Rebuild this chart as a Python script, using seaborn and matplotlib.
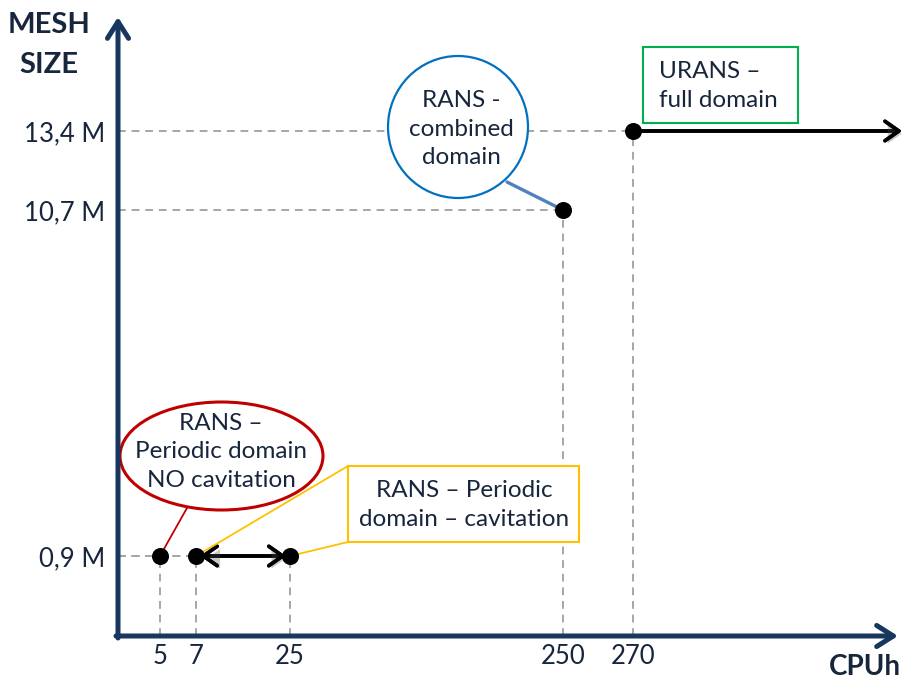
import numpy as np
import matplotlib.pyplot as plt
import seaborn as sns
import matplotlib.patheffects as pe
from matplotlib.patches import Ellipse, Rectangle

# data
cpu_hours = [5, 7, 25, 250, 270]
mesh_size = [0.9, 0.9, 0.9, 10.7, 13.4]
x_tick_labels = ["5", "7", "25", "250", "270"]
y_ticks = [0.9, 10.7, 13.4]
y_tick_labels = ["0,9 M", "10,7 M", "13,4 M"]

sns.set_theme(style="white")
plt.rcParams["font.family"] = ["Lato", "DejaVu Sans"]

W, H = 904, 679
NAVY = "#17375E"
TXT = "#17263C"
GREY = "#A6A6A6"


def px(x, y):
    # image pixel -> figure fraction
    return (x / W, 1 - y / H)


def piecewise(d, p):
    # schematic (non linear) axis: piecewise linear between the tick values
    d = np.asarray(d, float)
    p = np.asarray(p, float)

    def make(a, b):
        def f(v):
            v = np.asarray(v, float)
            out = np.interp(v, a, b)
            out = np.where(v < a[0], b[0] + (v - a[0]) * (b[1] - b[0]) / (a[1] - a[0]), out)
            out = np.where(v > a[-1], b[-1] + (v - a[-1]) * (b[-1] - b[-2]) / (a[-1] - a[-2]), out)
            return out
        return f
    return make(d, p), make(p, d)


fx, ix = piecewise([0, 5, 7, 25, 250, 270], [118, 160, 196, 290, 563, 633])
fy, iy = piecewise([0, 0.9, 10.7, 13.4], [H - 636, H - 556, H - 210, H - 131])

fig = plt.figure(figsize=(W / 100, H / 100), dpi=100)
ax = fig.add_axes([118 / W, (H - 636) / H, (W - 118) / W, 636 / H])
ax.set_xscale("function", functions=(fx, ix))
ax.set_yscale("function", functions=(fy, iy))
ax.set_xlim(0, float(ix(W)))
ax.set_ylim(0, float(iy(H)))
ax.set_facecolor("white")
for s in ax.spines.values():
    s.set_visible(False)
ax.minorticks_off()
ax.set_xticks(cpu_hours, x_tick_labels)
ax.set_yticks(y_ticks, y_tick_labels)
ax.tick_params(axis="both", length=0, labelsize=18.5, labelcolor=TXT)
ax.tick_params(axis="x", pad=6)
ax.tick_params(axis="y", pad=9)

# dashed guide lines
for x, y in zip(cpu_hours, mesh_size):
    ax.plot([x, x], [0, y], ls=(0, (4, 3)), color=GREY, lw=1.4, zorder=1)
    ax.plot([0, x], [y, y], ls=(0, (4, 3)), color=GREY, lw=1.4, zorder=1)

# axes arrows
axis_arrow = dict(arrowstyle="->,head_length=0.6,head_width=0.38", color=NAVY, lw=3.6,
                  mutation_scale=20, shrinkA=0, shrinkB=0)
fig.add_artist(plt.Annotation("", xy=px(118, 17), xytext=px(118, 638), xycoords="figure fraction",
                              arrowprops=axis_arrow))
fig.add_artist(plt.Annotation("", xy=px(898, 636), xytext=px(116, 636), xycoords="figure fraction",
                              arrowprops=axis_arrow))

fig.text(*px(49, 33), "MESH", ha="center", va="baseline", fontsize=21, fontweight="bold", color=TXT)
fig.text(*px(49, 73), "SIZE", ha="center", va="baseline", fontsize=21, fontweight="bold", color=TXT)
fig.text(*px(865, 675), "CPUh", ha="center", va="baseline", fontsize=20, fontweight="bold", color=TXT)

# black range arrows
shadow = [pe.withSimplePatchShadow(offset=(2, -2), alpha=0.3), pe.Normal()]
a1 = ax.annotate("", xy=(cpu_hours[2], mesh_size[2]), xytext=(cpu_hours[1], mesh_size[1]),
                 arrowprops=dict(arrowstyle="<->,head_length=0.5,head_width=0.35", color="black",
                                 lw=2.6, mutation_scale=20, shrinkA=3, shrinkB=3))
a1.arrow_patch.set_path_effects(shadow)
a2 = ax.annotate("", xy=(px(902, 0)[0], mesh_size[4]), xycoords=("figure fraction", "data"),
                 xytext=(cpu_hours[4], mesh_size[4]), textcoords="data",
                 arrowprops=dict(arrowstyle="->,head_length=0.5,head_width=0.35", color="black",
                                 lw=2.6, mutation_scale=20, shrinkA=0, shrinkB=0))
a2.arrow_patch.set_path_effects(shadow)

# connectors from callouts to points
def connect(start, i, color, lw):
    ax.annotate("", xy=(cpu_hours[i], mesh_size[i]), xytext=px(*start), textcoords="figure fraction",
                arrowprops=dict(arrowstyle="-", color=color, lw=lw, shrinkA=0, shrinkB=0), zorder=3)

connect((187, 508), 0, "#C00000", 1.3)
connect((348, 466), 1, "#FFC000", 1.3)
connect((348, 542), 2, "#FFC000", 1.3)
connect((507, 182), 3, "#4F81BD", 2.4)

sns.scatterplot(x=cpu_hours, y=mesh_size, color="black", s=150, linewidth=0, ax=ax, zorder=5,
                clip_on=False)

# callout shapes
FS = 17.5
LS = 1.45
fig.add_artist(Ellipse(px(221.5, 456), 203 / W, 108 / H, transform=fig.transFigure,
                       facecolor="white", edgecolor="#C00000", lw=2.2))
fig.text(*px(221, 452), "RANS –\nPeriodic domain\nNO cavitation", ha="center", va="center",
         fontsize=FS, color=TXT, linespacing=LS)

x0, y0 = px(348, 542)
fig.add_artist(Rectangle((x0, y0), (579 - 348) / W, (542 - 466) / H, transform=fig.transFigure,
                         facecolor="white", edgecolor="#FFC000", lw=1.5))
fig.text(*px(464, 505), "RANS – Periodic\ndomain – cavitation", ha="center", va="center",
         fontsize=FS, color=TXT, linespacing=LS)

fig.add_artist(Ellipse(px(458, 127), 140 / W, 142 / H, transform=fig.transFigure,
                       facecolor="white", edgecolor="#0070C0", lw=1.6))
fig.text(*px(461, 129), "RANS -\ncombined\ndomain", ha="center", va="center",
         fontsize=FS, color=TXT, linespacing=LS)

x0, y0 = px(643, 123)
fig.add_artist(Rectangle((x0, y0), (798 - 643) / W, (123 - 47) / H, transform=fig.transFigure,
                         facecolor="white", edgecolor="#00B050", lw=1.5))
fig.text(*px(659, 86), "URANS –\nfull domain", ha="left", va="center",
         fontsize=FS, color=TXT, linespacing=LS)

fig.savefig("out.png", dpi=100, facecolor="white")
